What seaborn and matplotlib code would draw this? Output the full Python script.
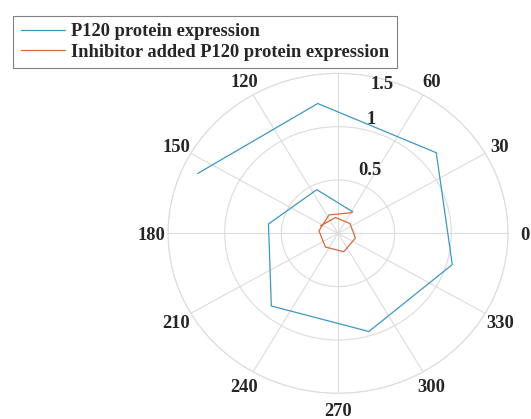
import numpy as np
import pandas as pd
import seaborn as sns
import matplotlib.pyplot as plt

# angles were given in radians 1..9
theta = [1, 2, 3, 4, 5, 6, 7, 8, 9]
p120 = [0.24, 0.45, 0.62, 0.90, 0.96, 1.05, 1.15, 1.23, 1.36]
inhib = [0.23, 0.19, 0.17, 0.17, 0.18, 0.16, 0.14, 0.15, 0.17]
series = ["P120 protein expression", "Inhibitor added P120 protein expression"]
angle_ticks = list(range(0, 360, 30))
angle_labels = ["" if a == 90 else str(a) for a in angle_ticks]
r_ticks = [0.5, 1, 1.5]
r_labels = ["0.5", "1", "1.5"]

df = pd.concat([
    pd.DataFrame({"theta": theta, "r": p120, "series": series[0]}),
    pd.DataFrame({"theta": theta, "r": inhib, "series": series[1]}),
], ignore_index=True)

sns.set_style("white")
plt.rcParams["font.family"] = ["Liberation Serif", "DejaVu Serif"]
plt.rcParams["font.weight"] = "bold"

blue, orange = "#3f97c4", "#d9693a"
fs = 13.3

fig = plt.figure(figsize=(5.31, 4.19), dpi=100)
ax = fig.add_axes([0.3164, 0.0613, 0.6403, 0.7637], projection="polar")
ax.set_aspect("auto")

sns.lineplot(data=df, x="theta", y="r", hue="series", palette=[blue, orange],
             sort=False, estimator=None, linewidth=0.9, ax=ax, legend=False)

rmax = 1.5
ax.set_ylim(0, rmax)
ax.set_thetagrids(angle_ticks, [""] * len(angle_ticks))
ax.set_rgrids(r_ticks, labels=[""] * len(r_ticks))
ax.grid(True, color="#dcdcdc", linewidth=0.8)
ax.spines["polar"].set_color("#dcdcdc")
ax.spines["polar"].set_linewidth(0.8)
ax.set_xlabel("")
ax.set_ylabel("")

# angle labels sit at 1.1 * rmax, like the old matlab polar()
for a, txt in zip(angle_ticks, angle_labels):
    ax.text(np.deg2rad(a), 1.1 * rmax, txt, ha="center", va="center_baseline",
            fontsize=fs, fontweight="bold")

# radial labels
lab_pos = [(65.1, 0.665), (75.0, 1.128), (74.5, 1.471)]
for (ang, rr), txt in zip(lab_pos, r_labels):
    ax.text(np.deg2rad(ang), rr, txt, ha="center", va="center_baseline", fontsize=fs, fontweight="bold")

handles = [plt.Line2D([], [], color=blue, lw=0.9), plt.Line2D([], [], color=orange, lw=0.9)]
leg = fig.legend(handles, series, loc="upper left", bbox_to_anchor=(13.3 / 531, 1 - 16 / 419),
                 borderaxespad=0, fancybox=False, framealpha=1, edgecolor="#808080",
                 prop={"size": fs, "weight": "bold"}, handlelength=2.4, handletextpad=0.33,
                 labelspacing=0.18, borderpad=0.4)
leg.get_frame().set_linewidth(0.8)

fig.savefig("out.png", dpi=100)
